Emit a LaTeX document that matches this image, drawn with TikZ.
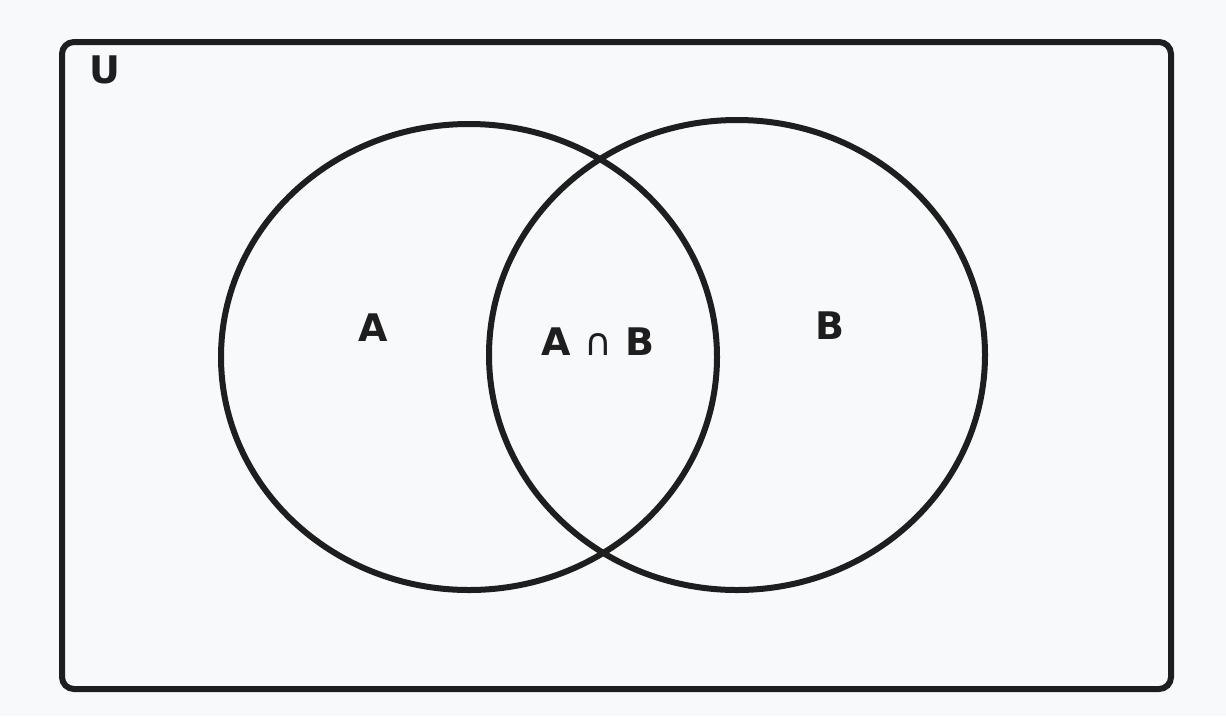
\documentclass[tikz,border=0pt]{standalone}
\usepackage{fontspec}
\setmainfont{DejaVu Sans}
\definecolor{bg}{HTML}{F8F9FA}
\definecolor{ink}{HTML}{1E1E1E}
\begin{document}
\begin{tikzpicture}[x=1pt,y=-1pt,
  shape line/.style={draw=ink,line width=6pt},
  lbl/.style={text=ink,font=\bfseries\fontsize{38}{44}\selectfont,inner sep=0pt}]
\fill[bg] (0,0) rectangle (1226,716);
\useasboundingbox (0,0) rectangle (1226,716);
\draw[shape line,rounded corners=12pt] (62,42) rectangle (1171,689);
\draw[shape line] (469,357) ellipse [x radius=248, y radius=233];
\draw[shape line] (737,355) ellipse [x radius=248, y radius=235];
\node[lbl] (u) at (105,70) {U};
\node[lbl] (a) at (373,328) {A};
\node[lbl] (ab) at (598,342) {A {\mdseries ∩} B};
\node[lbl] (b) at (830,326) {B};
\end{tikzpicture}
\end{document}
